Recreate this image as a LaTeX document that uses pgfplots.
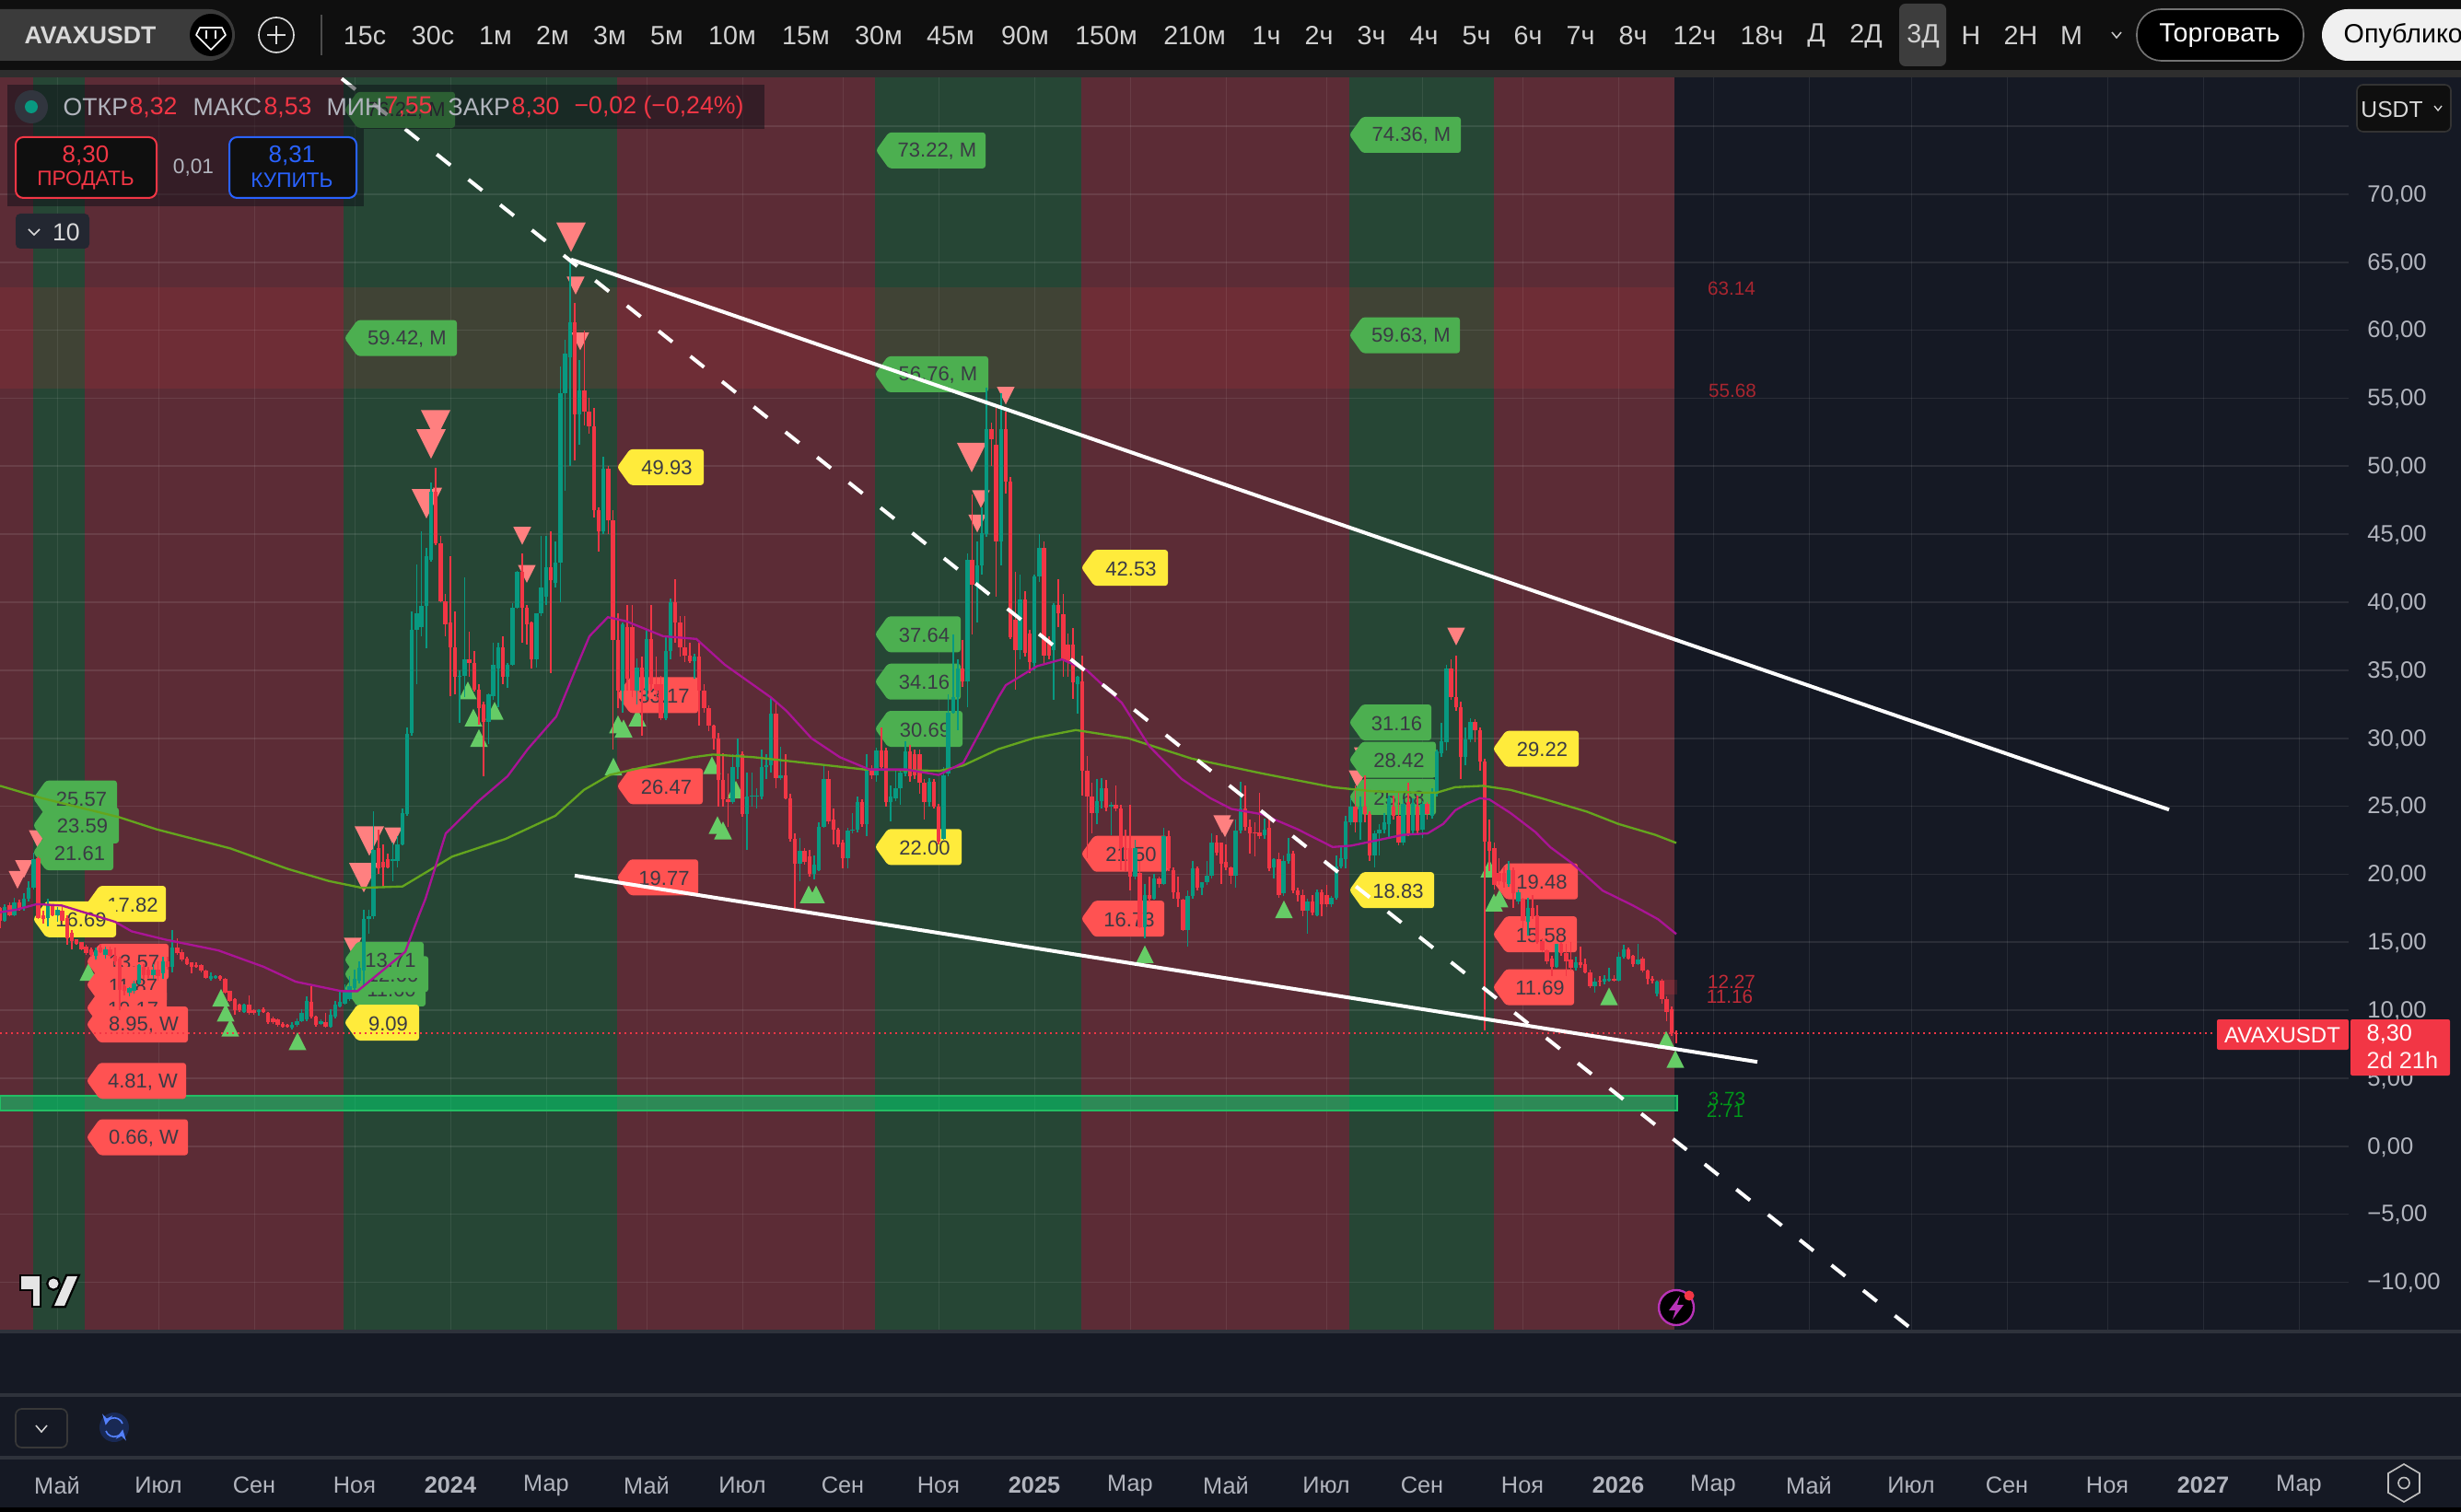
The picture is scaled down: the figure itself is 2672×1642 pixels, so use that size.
\documentclass[border=0pt]{standalone}
\usepackage{fontspec}
\setmainfont{Liberation Sans}
\usepackage{pgfplots}
\usepackage{pgfplotstable}
\pgfplotsset{compat=1.18}
\usetikzlibrary{plotmarks}
\definecolor{bg}{RGB}{21,25,36}
\definecolor{bandR}{RGB}{92,44,54}
\definecolor{bandG}{RGB}{38,70,53}
\definecolor{cup}{RGB}{8,153,129}
\definecolor{cdn}{RGB}{242,54,69}
\definecolor{tagG}{RGB}{76,175,80}
\definecolor{tagR}{RGB}{255,82,82}
\definecolor{tagY}{RGB}{255,235,59}
\definecolor{tagT}{RGB}{58,58,68}
\definecolor{triP}{RGB}{255,128,128}
\definecolor{triG}{RGB}{102,204,102}
\definecolor{maP}{RGB}{170,20,150}
\definecolor{maG}{RGB}{100,165,30}
\definecolor{lbl}{RGB}{178,181,190}
\definecolor{sep}{RGB}{46,50,59}
\definecolor{bar}{RGB}{15,15,15}
\definecolor{buy}{RGB}{41,98,255}
\newcommand{\fs}[1]{\fontsize{#1}{#1}\selectfont}
\pgfdeclareplotmark{dn}{\pgfpathmoveto{\pgfpoint{-\pgfplotmarksize}{0.667\pgfplotmarksize}}\pgfpathlineto{\pgfpoint{\pgfplotmarksize}{0.667\pgfplotmarksize}}\pgfpathlineto{\pgfpoint{0pt}{-1.333\pgfplotmarksize}}\pgfpathclose\pgfusepathqfill}
\pgfdeclareplotmark{up}{\pgfpathmoveto{\pgfpoint{-\pgfplotmarksize}{-0.667\pgfplotmarksize}}\pgfpathlineto{\pgfpoint{\pgfplotmarksize}{-0.667\pgfplotmarksize}}\pgfpathlineto{\pgfpoint{0pt}{1.333\pgfplotmarksize}}\pgfpathclose\pgfusepathqfill}
\newcommand{\band}[3]{\addplot[fill=#3,draw=none,forget plot] coordinates {(#1,-13.622)(#2,-13.622)(#2,78.593)(#1,78.593)} --cycle;}
\newcommand{\tg}[5]{%
 \fill[#4,rounded corners=.9pt] (axis cs:#1,#2) -- ++(4.2pt,5.85pt) -- ++({(#3-#1-14)*0.3pt},0pt) -- ++(0pt,-11.7pt) -- ++({-(#3-#1-14)*0.3pt},0pt) -- cycle;
 \path (axis cs:#1,#2) ++({(#3-#1+14)*0.15pt},-0.3pt) node[text=tagT,font=\fs{6.6}] {#5};}
\pgfplotstableread{
i o h l c
0 17.5 17.6 16.0 16.6
1 16.6 17.8 16.5 17.6
2 17.7 17.9 16.9 17.0
3 17.0 18.3 16.9 17.9
4 17.9 18.1 17.3 17.5
5 17.5 18.6 17.3 18.2
6 18.2 19.5 18.0 19.0
7 19.0 21.6 18.9 21.1
8 21.2 21.3 16.7 16.8
9 17.0 17.3 16.4 16.7
10 16.8 18.2 16.2 17.7
11 17.7 17.8 16.9 17.0
12 17.0 17.6 16.5 17.4
13 17.3 17.6 16.4 16.6
14 16.8 17.0 14.8 15.3
15 15.7 15.9 14.5 15.1
16 15.2 15.2 14.8 14.9
17 15.0 15.0 14.4 14.5
18 14.7 14.8 14.1 14.2
19 14.5 14.6 13.9 14.1
20 14.0 14.6 13.7 14.4
21 14.6 14.9 14.2 14.3
22 14.1 14.7 13.8 14.5
23 14.5 14.7 13.9 14.0
24 14.0 14.6 13.3 13.6
25 13.8 13.9 10.0 11.5
26 11.8 11.9 11.1 11.4
27 11.3 11.7 11.0 11.6
28 11.4 12.2 11.2 12.0
29 12.0 13.4 11.9 13.3
30 13.2 13.4 12.3 12.6
31 13.0 13.2 12.4 12.6
32 12.6 13.4 12.3 13.0
33 13.0 13.6 12.2 12.5
34 12.7 13.9 12.3 13.6
35 13.6 13.9 13.0 13.2
36 13.2 15.9 12.8 14.6
37 14.6 15.3 14.1 14.2
38 14.3 14.5 13.6 13.7
39 13.8 13.9 13.3 13.4
40 13.5 13.5 12.7 13.2
41 13.3 13.5 13.1 13.2
42 13.3 13.4 12.8 12.9
43 12.9 13.0 12.3 12.4
44 12.3 12.8 12.2 12.5
45 12.4 12.6 12.3 12.5
46 12.5 12.6 12.2 12.3
47 12.3 12.4 11.2 11.3
48 11.4 11.4 10.6 10.7
49 10.8 10.9 9.7 10.0
50 10.4 10.5 9.9 10.0
51 9.9 10.5 9.8 10.4
52 10.4 11.1 9.7 9.8
53 10.0 10.1 9.7 9.8
54 9.9 10.1 9.6 10.0
55 10.1 10.2 9.8 9.9
56 9.8 9.9 9.0 9.1
57 9.4 9.5 9.0 9.1
58 9.3 9.4 8.8 8.9
59 9.0 9.1 8.7 8.8
60 8.9 9.0 8.7 8.8
61 8.7 9.1 8.6 8.9
62 8.9 9.4 8.8 9.2
63 9.2 10.1 9.1 9.8
64 9.3 11.0 9.2 10.7
65 10.6 11.8 9.4 9.5
66 9.5 9.6 8.8 8.9
67 9.0 9.3 8.9 9.2
68 9.1 9.8 8.7 8.8
69 8.8 10.1 8.7 9.7
70 9.5 10.7 9.4 10.4
71 10.3 11.4 10.2 10.6
72 10.5 11.9 10.4 11.4
73 10.8 12.5 10.7 11.8
74 11.6 13.0 11.5 12.3
75 12.2 13.6 12.0 13.1
76 12.9 17.4 11.8 16.7
77 16.7 17.4 15.6 16.9
78 16.9 24.6 16.7 21.8
79 21.9 23.3 20.0 20.4
80 20.9 22.2 19.0 20.5
81 21.1 21.5 20.4 20.5
82 21.0 22.3 19.5 21.1
83 21.0 22.8 20.5 22.2
84 22.2 24.8 22.1 24.5
85 24.4 30.8 24.3 30.3
86 30.4 39.3 30.2 38.0
87 38.0 42.8 34.0 39.2
88 38.2 45.2 37.5 39.7
89 39.7 44.0 36.6 43.4
90 43.1 48.8 43.0 48.1
91 48.1 49.9 44.2 44.3
92 44.3 44.9 40.0 40.1
93 40.1 40.6 37.5 38.4
94 38.5 43.4 33.1 36.7
95 36.7 39.3 33.2 34.5
96 34.5 35.0 31.1 34.6
97 34.6 41.8 33.0 35.8
98 35.8 37.8 34.5 35.5
99 35.5 36.4 33.4 33.6
100 33.6 34.0 31.0 32.2
101 32.5 32.7 27.2 31.2
102 31.2 33.3 29.6 33.2
103 33.1 37.0 32.8 35.4
104 35.1 37.0 32.3 36.7
105 36.7 37.5 34.0 34.5
106 34.5 35.5 33.7 35.4
107 35.4 39.9 35.3 39.6
108 39.6 42.3 39.5 42.2
109 42.2 43.6 37.0 39.6
110 39.6 39.8 36.9 38.4
111 38.5 38.6 35.1 35.8
112 35.8 39.2 35.2 39.2
113 39.2 44.9 39.0 41.1
114 40.4 44.9 39.8 42.6
115 42.6 45.2 34.8 41.6
116 41.4 44.5 41.1 42.9
117 42.9 57.3 40.0 55.4
118 55.4 59.3 48.2 58.3
119 58.0 65.0 50.0 60.6
120 60.6 62.0 50.4 53.8
121 53.8 57.8 51.6 55.6
122 55.6 60.0 53.0 54.0
123 54.0 55.0 52.4 52.9
124 52.9 54.3 46.2 46.8
125 46.8 47.0 43.7 45.2
126 45.2 50.7 45.0 49.8
127 49.8 50.0 45.0 46.0
128 46.0 46.8 29.2 37.2
129 37.2 39.2 32.2 33.5
130 33.5 38.5 31.9 38.4
131 38.2 39.8 33.5 34.4
132 38.2 39.8 33.0 33.5
133 33.5 35.9 32.5 35.2
134 35.2 36.0 30.2 33.5
135 33.5 38.0 32.8 37.3
136 37.3 39.8 33.5 34.0
137 34.0 36.0 32.8 33.5
138 34.0 34.6 31.3 31.5
139 31.5 37.5 31.3 36.4
140 36.4 40.3 35.8 40.0
141 40.0 41.7 37.0 38.5
142 38.5 39.0 36.0 36.7
143 36.7 39.0 35.6 36.1
144 36.1 37.0 35.5 35.7
145 35.7 36.2 34.4 36.0
146 36.0 37.0 30.9 33.5
147 33.5 34.0 31.9 32.2
148 32.2 32.4 30.5 30.9
149 30.9 31.0 29.2 30.0
150 30.0 30.4 25.0 26.9
151 26.9 28.9 25.0 25.5
152 25.5 27.4 23.5 25.3
153 25.3 28.8 25.2 27.9
154 27.9 30.0 27.0 28.8
155 28.8 29.0 24.2 24.4
156 24.4 27.5 21.8 25.7
157 25.7 27.5 25.0 25.8
158 25.7 26.3 24.8 25.8
159 25.7 29.2 25.5 27.9
160 27.9 28.8 27.0 28.0
161 28.0 33.0 27.5 31.8
162 31.8 32.6 26.3 27.1
163 27.1 29.4 26.9 27.3
164 27.3 28.8 25.5 25.6
165 25.6 25.9 22.4 22.6
166 22.6 23.0 17.3 20.8
167 20.8 22.7 19.5 21.7
168 21.7 21.9 20.7 20.9
169 21.3 21.8 19.8 20.0
170 20.0 21.4 19.6 20.7
171 20.3 23.8 20.2 23.5
172 23.5 28.0 23.4 27.0
173 27.0 27.6 23.7 23.9
174 24.0 24.8 22.2 23.3
175 23.3 23.4 22.0 22.2
176 22.3 22.5 20.4 21.2
177 21.2 23.4 20.4 23.2
178 23.2 24.5 23.0 23.3
179 23.3 25.7 23.1 25.3
180 25.3 25.5 23.5 23.7
181 23.7 28.8 22.8 27.6
182 27.6 28.0 27.0 27.3
183 27.3 29.3 26.8 29.1
184 29.1 30.8 27.7 27.9
185 29.1 29.3 25.0 25.3
186 25.3 26.5 23.9 25.7
187 25.6 27.6 25.4 26.3
188 26.3 27.7 25.1 27.5
189 27.4 29.8 27.2 29.0
190 29.0 29.5 26.8 27.2
191 28.8 29.2 27.0 27.3
192 28.8 29.2 25.9 26.7
193 26.7 27.0 24.0 25.3
194 25.3 27.1 25.0 26.8
195 26.8 27.0 24.8 25.0
196 25.0 25.2 22.2 22.4
197 22.6 27.9 22.5 27.3
198 27.4 33.2 27.2 31.9
199 31.9 37.6 31.8 33.0
200 33.0 35.8 30.6 35.1
201 35.1 37.2 33.8 34.2
202 34.2 43.6 32.3 43.1
203 43.1 47.9 37.6 41.3
204 41.2 44.5 38.5 42.7
205 42.7 47.0 42.0 45.1
206 45.0 55.8 44.8 52.7
207 52.7 53.2 50.0 52.0
208 51.6 54.3 40.4 44.5
209 44.5 55.4 42.7 52.7
210 52.7 54.0 48.0 48.9
211 48.9 49.2 37.3 37.4
212 38.7 42.2 33.6 36.5
213 36.5 42.0 35.8 40.2
214 40.2 40.8 36.0 36.3
215 37.7 38.0 34.8 35.6
216 35.5 42.0 35.0 41.9
217 41.9 45.0 41.5 44.0
218 44.0 44.5 35.5 36.1
219 37.2 37.5 35.8 36.1
220 36.5 39.9 32.8 39.8
221 39.8 41.7 38.2 39.2
222 39.1 40.6 34.5 35.8
223 36.9 37.7 34.5 35.7
224 36.9 38.1 32.9 34.1
225 34.0 34.6 31.8 34.5
226 34.2 36.1 25.8 27.6
227 27.6 28.7 21.2 25.7
228 25.7 26.7 23.0 24.5
229 24.5 27.0 23.7 25.4
230 25.4 27.1 24.8 26.3
231 26.3 26.9 24.6 24.9
232 25.0 25.3 22.9 25.1
233 25.1 26.5 24.6 24.8
234 24.8 25.1 20.3 21.9
235 21.9 23.3 20.2 21.8
236 21.9 25.1 18.8 19.8
237 19.8 22.5 19.6 21.9
238 20.1 21.0 16.0 16.1
239 16.1 19.3 15.3 18.5
240 18.5 19.8 18.0 18.2
241 18.2 20.0 18.1 19.7
242 19.7 19.8 19.0 19.3
243 19.3 23.4 19.2 22.8
244 22.8 23.2 20.2 20.4
245 20.3 20.5 18.2 18.7
246 18.7 19.8 17.6 18.2
247 18.1 18.2 15.8 15.9
248 15.9 18.8 14.7 18.4
249 18.4 21.0 18.2 20.4
250 20.4 20.6 18.8 19.0
251 19.0 19.4 18.5 19.4
252 19.4 21.0 19.2 19.9
253 19.9 23.0 19.7 22.3
254 22.3 22.9 21.4 21.6
255 22.3 22.3 19.3 20.8
256 20.9 22.2 20.3 20.5
257 20.5 20.6 19.3 19.9
258 19.9 24.0 19.0 23.2
259 23.2 26.8 23.0 24.8
260 24.8 26.5 23.2 23.5
261 23.5 24.0 21.5 23.0
262 23.1 23.8 21.3 23.0
263 23.1 26.0 22.6 22.8
264 22.9 24.1 22.6 23.3
265 23.4 24.2 20.2 20.4
266 20.5 21.2 19.7 21.1
267 21.1 21.6 18.3 18.5
268 18.6 21.4 18.4 21.0
269 21.0 22.7 20.8 21.5
270 21.5 21.7 18.6 18.8
271 18.8 19.0 18.0 18.5
272 18.5 18.9 16.9 17.3
273 17.3 18.2 15.6 18.0
274 18.0 18.5 17.0 17.2
275 17.0 18.9 16.9 18.7
276 18.7 18.9 16.9 17.8
277 18.5 19.2 17.6 17.8
278 17.8 18.4 17.6 18.3
279 18.3 21.4 18.1 20.6
280 20.6 22.1 20.4 21.2
281 21.1 24.3 20.4 23.9
282 23.8 25.6 23.6 25.0
283 25.0 26.5 23.1 23.8
284 23.8 25.7 22.5 25.0
285 25.0 27.3 23.8 24.4
286 24.4 24.6 21.0 21.4
287 21.4 23.2 20.5 23.0
288 23.0 23.7 21.4 23.3
289 23.3 24.5 23.0 23.8
290 23.7 25.8 22.7 25.6
291 25.0 25.8 24.0 24.3
292 24.3 26.0 22.1 22.3
293 22.3 25.5 22.1 25.2
294 25.3 26.7 22.8 23.0
295 23.2 25.6 23.0 25.2
296 25.0 25.8 23.0 23.2
297 23.3 25.4 22.7 25.2
298 25.2 25.3 24.0 24.4
299 24.3 26.3 24.1 26.0
300 25.9 29.2 25.7 29.0
301 28.9 31.1 28.6 29.8
302 29.7 35.4 29.1 35.1
303 35.1 35.8 32.8 33.0
304 33.0 36.1 32.0 32.3
305 32.3 32.7 27.0 28.6
306 28.6 30.8 28.0 29.9
307 29.9 31.5 29.7 31.2
308 31.2 31.4 29.7 30.6
309 30.6 30.8 27.6 28.3
310 28.3 28.5 8.5 22.4
311 22.4 24.0 20.2 21.7
312 21.9 22.3 18.9 19.2
313 20.1 21.2 19.2 19.5
314 20.1 20.6 19.0 19.4
315 19.3 21.0 19.1 20.3
316 20.3 20.5 17.5 18.6
317 18.0 18.9 17.8 18.7
318 18.2 18.3 16.0 16.6
319 16.5 18.3 15.5 17.5
320 17.5 18.5 16.7 16.9
321 17.0 17.7 14.9 15.0
322 15.1 15.3 14.3 14.4
323 14.4 14.5 13.4 13.6
324 13.8 14.0 12.5 13.2
325 13.2 14.9 13.1 14.9
326 14.9 15.0 14.0 14.2
327 14.2 14.9 12.5 13.6
328 13.7 15.0 12.9 13.1
329 13.1 13.9 12.9 13.5
330 13.5 14.7 13.1 13.3
331 13.4 13.8 12.7 12.8
332 12.8 13.0 11.6 11.8
333 11.8 12.4 11.3 12.1
334 12.2 12.5 11.8 12.1
335 12.1 12.6 11.9 12.3
336 12.2 13.1 12.1 12.3
337 12.3 12.6 12.1 12.2
338 12.2 14.3 12.1 13.9
339 13.9 14.8 13.8 14.5
340 14.5 14.6 13.7 13.8
341 14.0 14.1 13.2 13.4
342 13.4 14.9 13.3 13.7
343 13.8 13.9 12.8 12.9
344 12.9 13.0 11.9 12.3
345 12.3 12.5 12.0 12.2
346 11.2 12.2 11.0 12.1
347 12.2 12.3 10.5 10.8
348 10.8 11.0 9.2 9.9
349 10.1 10.3 8.1 8.3
350 8.32 8.53 7.55 8.30
}\candles
\begin{document}
\begin{tikzpicture}[x=0.3pt,y=-0.3pt]
\useasboundingbox (0,0) rectangle (2672,1642);
\fill[bg] (0,0) rectangle (2672,1642);
% --- bands
\begin{axis}[at={(0pt,-433.8pt)},anchor=south west,scale only axis,width=765pt,height=408.6pt,xmin=0,xmax=2550,ymin=-13.622,ymax=78.593,hide axis]
\band{0}{36}{bandR}
\band{36}{92}{bandG}
\band{92}{373}{bandR}
\band{373}{670}{bandG}
\band{670}{950}{bandR}
\band{950}{1174}{bandG}
\band{1174}{1465}{bandR}
\band{1465}{1622}{bandG}
\band{1622}{1818}{bandR}
\addplot[fill={rgb,255:red,213;green,55;blue,55},fill opacity=.15,draw=none,forget plot] coordinates {(0,55.68)(1818,55.68)(1818,63.14)(0,63.14)} --cycle;
\end{axis}
% --- main
\begin{axis}[at={(0pt,-433.8pt)},anchor=south west,scale only axis,width=765pt,height=408.6pt,xmin=0,xmax=2550,ymin=-13.622,ymax=78.593,
 axis line style={draw=none},major tick length=0pt,
 xmajorgrids,ymajorgrids,
 x grid style={white,opacity=.08,line width=.3pt},
 y grid style={white,opacity=.09,line width=.5pt},
 xtick={62,172,276,385,489,593,702,806,915,1019,1123,1227,1331,1440,1544,1653,1757,1860,1964,2075,2179,2288,2392,2496},
 xticklabels={Май,Июл,Сен,Ноя,\textbf{2024},Мар,Май,Июл,Сен,Ноя,\textbf{2025},Мар,Май,Июл,Сен,Ноя,\textbf{2026},Мар,Май,Июл,Сен,Ноя,\textbf{2027},Мар},
 xticklabel style={anchor=center,yshift=-50.1pt,font=\fs{7.6},text=lbl},
 ytick={-10,-5,0,5,10,15,20,25,30,35,40,45,50,55,60,65,70,75},
 yticklabels={{−10,00},{−5,00},{0,00},{5,00},{10,00},{15,00},{20,00},{25,00},{30,00},{35,00},{40,00},{45,00},{50,00},{55,00},{60,00},{65,00},{70,00},{}},
 yticklabel pos=right,
 yticklabel style={anchor=west,xshift=2.6pt,yshift=-.3pt,font=\fs{7.7},text=lbl},
 clip mode=individual]
% green zone
\addplot[fill={rgb,255:red,0;green,230;blue,118},fill opacity=.5,draw={rgb,255:red,34;green,190;blue,100},line width=.6pt,forget plot] coordinates {(0,2.65)(1821,2.65)(1821,3.7)(0,3.7)} --cycle;
\addplot[fill=cdn,fill opacity=.18,draw=none,forget plot] coordinates {(1798,11.16)(1821,11.16)(1821,12.27)(1798,12.27)} --cycle;
% triangles
\addplot[only marks,mark=dn,mark size=4.8pt,color=triP,forget plot] coordinates {(620,67.2)(473,53.4)(468,52)(463,47.6)(401,22.8)(395,20.1)(1055,51)};
\addplot[only marks,mark=dn,mark size=2.9pt,color=triP,forget plot] coordinates {(625,63.5)(630,59.4)(567,45.1)(572,42.3)(427,23)(383,14.9)(41,22.8)(26,20.6)(19,19.8)(1092,55.4)(1065,47.8)(1061,46)(1327,23.9)(1330,23.6)(1581,37.7)(1474,27.2)};
\addplot[only marks,mark=dn,mark size=1.5pt,color=triP,forget plot] coordinates {(475,48.2)(1475,29.1)};
\addplot[only marks,mark=up,mark size=2.9pt,color=triG,forget plot] coordinates {(96,12.6)(240,10.7)(245,9.6)(250,8.5)(323,7.5)(520,29.8)(508,33.3)(514,31.3)(537,31.8)(671,30.8)(677,30.5)(692,31.3)(666,27.7)(773,27.8)(799,26)(779,23.4)(785,23)(878,18.3)(886,18.3)(1243,13.9)(1394,17.2)(1617,20.2)(1628,18)(1622,17.7)(1747,10.8)(1809,7.6)(1819,6.2)};
% tags
\tg{374}{76.2}{494}{tagG}{76.22, M}
\tg{951}{73.22}{1070}{tagG}{73.22, M}
\tg{1465}{74.36}{1586}{tagG}{74.36, M}
\tg{374}{59.42}{496}{tagG}{59.42, M}
\tg{1465}{59.63}{1585}{tagG}{59.63, M}
\tg{950}{56.76}{1073}{tagG}{56.76, M}
\tg{36}{25.57}{127}{tagG}{25.57}
\tg{36}{23.59}{129}{tagG}{23.59}
\tg{36}{21.61}{123}{tagG}{21.61}
\tg{94}{17.82}{180}{tagY}{17.82}
\tg{36}{16.69}{126}{tagY}{16.69}
\tg{94}{13.57}{183}{tagR}{13.57}
\tg{94}{11.87}{181}{tagR}{11.87}
\tg{94}{10.17}{181}{tagR}{10.17}
\tg{94}{8.95}{204}{tagR}{8.95, W}
\tg{94}{4.81}{202}{tagR}{4.81, W}
\tg{94}{0.66}{204}{tagR}{0.66, W}
\tg{374}{11.60}{462}{tagG}{11.60}
\tg{374}{12.66}{465}{tagG}{12.66}
\tg{374}{13.71}{460}{tagG}{13.71}
\tg{374}{9.09}{455}{tagY}{9.09}
\tg{670}{49.93}{764}{tagY}{49.93}
\tg{670}{33.17}{758}{tagR}{33.17}
\tg{670}{26.47}{763}{tagR}{26.47}
\tg{670}{19.77}{758}{tagR}{19.77}
\tg{950}{37.64}{1043}{tagG}{37.64}
\tg{950}{34.16}{1043}{tagG}{34.16}
\tg{950}{30.69}{1045}{tagG}{30.69}
\tg{950}{22.00}{1044}{tagY}{22.00}
\tg{1174}{42.53}{1268}{tagY}{42.53}
\tg{1174}{21.50}{1268}{tagR}{21.50}
\tg{1174}{16.73}{1264}{tagR}{16.73}
\tg{1465}{25.68}{1559}{tagG}{25.68}
\tg{1465}{28.42}{1559}{tagG}{28.42}
\tg{1465}{31.16}{1554}{tagG}{31.16}
\tg{1465}{18.83}{1557}{tagY}{18.83}
\tg{1621}{29.22}{1714}{tagY}{29.22}
\tg{1621}{19.48}{1713}{tagR}{19.48}
\tg{1621}{15.58}{1712}{tagR}{15.58}
\tg{1621}{11.69}{1709}{tagR}{11.69}
% candles: wicks then bodies, one plot for each colour
\addplot[draw=none,mark=none,forget plot,error bars/.cd,y dir=both,y explicit,error mark=none,error bar style={line width=.45pt,draw=cup}] table[x expr={\thisrow{c}>=\thisrow{o}?5.2*\thisrow{i}:nan},y=c,y error plus expr={\thisrow{h}-\thisrow{c}},y error minus expr={\thisrow{c}-\thisrow{l}}] {\candles};
\addplot[draw=none,mark=none,forget plot,error bars/.cd,y dir=both,y explicit,error mark=none,error bar style={line width=1.35pt,draw=cup}] table[x expr={\thisrow{c}>=\thisrow{o}?5.2*\thisrow{i}:nan},y=c,y error plus expr={0},y error minus expr={\thisrow{c}-\thisrow{o}}] {\candles};
\addplot[draw=none,mark=none,forget plot,error bars/.cd,y dir=both,y explicit,error mark=none,error bar style={line width=.45pt,draw=cdn}] table[x expr={\thisrow{c}<\thisrow{o}?5.2*\thisrow{i}:nan},y=c,y error plus expr={\thisrow{h}-\thisrow{c}},y error minus expr={\thisrow{c}-\thisrow{l}}] {\candles};
\addplot[draw=none,mark=none,forget plot,error bars/.cd,y dir=both,y explicit,error mark=none,error bar style={line width=1.35pt,draw=cdn}] table[x expr={\thisrow{c}<\thisrow{o}?5.2*\thisrow{i}:nan},y=c,y error plus expr={\thisrow{o}-\thisrow{c}},y error minus expr={0}] {\candles};
% moving averages
\addplot[maG,line width=.7pt,forget plot] coordinates {(0,26.5)(45,25.6)(129,24.2)(170,23.3)(250,21.9)(312,20.4)(357,19.5)(393,19.0)(437,19.1)(469,20.4)(491,21.3)(549,22.6)(603,24.3)(634,26.2)(662,27.3)(694,27.8)(716,28.1)(752,28.6)(774,28.8)(819,28.6)(886,28.1)(939,27.7)(1020,27.6)(1046,28)(1084,29.2)(1122,30)(1168,30.6)(1225,30)(1294,28.5)(1371,27.4)(1447,26.4)(1490,26.1)(1543,26)(1560,26)(1580,26.4)(1610,26.5)(1640,26.2)(1673,25.6)(1723,24.6)(1757,23.7)(1797,22.9)(1820,22.3)};
\addplot[maP,line width=.7pt,forget plot] coordinates {(0,17.2)(18,17.4)(40,17.8)(67,17.7)(125,16.5)(143,15.8)(179,15.2)(237,14.4)(286,13.2)(321,12.1)(371,11.4)(388,11.4)(415,12.9)(440,14.3)(455,17)(462,18.2)(484,23)(520,25.4)(551,27.2)(573,29.2)(604,31.6)(627,35.4)(640,37.5)(660,38.9)(680,38.6)(720,37.5)(756,37.3)(787,35.4)(837,33)(854,32)(881,30)(912,28.6)(944,27.7)(984,27.7)(1019,27.3)(1046,28.2)(1065,30.6)(1084,33)(1092,33.9)(1126,35.3)(1153,35.8)(1180,35)(1218,32.6)(1248,29.4)(1283,27)(1314,25.6)(1337,24.8)(1371,24.4)(1409,23.3)(1447,22)(1467,22.1)(1524,22.9)(1550,23)(1567,23.7)(1580,24.7)(1593,25.2)(1607,25.6)(1617,25.5)(1640,24.5)(1667,23.1)(1683,22)(1707,20.8)(1740,18.8)(1773,17.7)(1800,16.7)(1820,15.6)};
% current price
\addplot[cdn,line width=.5pt,dash pattern=on .7pt off 1.1pt,forget plot] coordinates {(0,8.3)(2403,8.3)};
% trend lines
\addplot[white,line width=1.2pt,forget plot] coordinates {(620,65.2)(2355,24.75)};
\addplot[white,line width=1.2pt,forget plot] coordinates {(624,19.9)(1908,6.2)};
\addplot[white,line width=1.2pt,dash pattern=on 5.7pt off 7.5pt,forget plot] coordinates {(371,78.5)(2073,-13.3)};
\end{axis}
% --- separators
\fill[sep] (0,1444) rectangle (2672,1448);
\fill[sep] (0,1513) rectangle (2672,1517);
\fill[sep] (0,1581) rectangle (2672,1585);
\fill[black] (0,1637) rectangle (2672,1642);
% --- toolbar
\fill[bar] (0,0) rectangle (2672,76);
\fill[white!18!black] (0,76) rectangle (2672,84);
\fill[white!23!black,rounded corners=8.4pt] (-40,10) rectangle (255,66);
\node[text=white!85!black,font=\fs{8}\bfseries] at (98,38) {AVAXUSDT};
\fill[black] (229,38) circle (23);
\draw[white,line width=.5pt,line join=round] (217,30)--(241,30)--(245,38)--(229,54)--(213,38)--cycle;
\draw[white,line width=.8pt] (224,33)--(224,42) (234,33)--(234,42);
\draw[white!85!black,line width=.5pt] (300,38) circle (19);
\draw[white!85!black,line width=.5pt] (290,38)--(310,38) (300,28)--(300,48);
\draw[white!30!black,line width=.5pt] (349,16)--(349,60);
\fill[white!24!black,rounded corners=2pt] (2062,4) rectangle (2113,72);
\foreach \x/\t in {396/15с,470/30с,538/1м,600/2м,662/3м,724/5м,795/10м,875/15м,954/30м,1032/45м,1113/90м,1201/150м,1297/210м,1375/1ч,1432/2ч,1489/3ч,1546/4ч,1603/5ч,1659/6ч,1716/7ч,1773/8ч,1840/12ч,1913/18ч,1972/Д,2026/2Д,2088/3Д,2140/Н,2194/2Н,2249/М}
 \node[text=white!82!black,font=\fs{8.6}] at (\x,39) {\t};
\draw[white!80!black,line width=.45pt] (2293,35)--(2298,41)--(2303,35);
\draw[white!45!black,fill=black,line width=.5pt,rounded corners=8pt] (2320,10) rectangle (2501,66);
\node[text=white,font=\fs{8.6}] at (2410,39) {Торговать};
\fill[white!94!black,rounded corners=8.4pt] (2521,10) rectangle (2750,66);
\node[anchor=west,inner sep=0pt,text=black,font=\fs{8.6}] at (2544,39) {Опубликовать};
% --- legend panel
\fill[black!35!bg,fill opacity=.5] (8,92) rectangle (830,140);
\fill[black!35!bg,fill opacity=.5] (8,140) rectangle (395,224);
\fill[white!12!bg] (34,116) circle (18);
\fill[cup] (34,116) circle (7);
\foreach \x/\t/\c in {68/ОТКР/lbl,140/{8,32}/cdn,209/МАКС/lbl,286/{8,53}/cdn,354/МИН/lbl,417/{7,55}/cdn,486/ЗАКР/lbl,555/{8,30}/cdn,623/{−0,02 (−0,24\%)}/cdn}
 \node[anchor=west,inner sep=0pt,text=\c,font=\fs{8}] at (\x,116.5) {\t};
\draw[cdn,fill=bar,line width=.6pt,rounded corners=2.5pt] (17,149) rectangle (170,215);
\node[text=cdn,font=\fs{7.8}] at (93,169) {8,30};
\node[text=cdn,font=\fs{6.8}] at (93,196) {ПРОДАТЬ};
\node[text=lbl,font=\fs{6.8}] at (210,182) {0,01};
\draw[buy,fill=bar,line width=.6pt,rounded corners=2.5pt] (249,149) rectangle (387,215);
\node[text=buy,font=\fs{7.8}] at (317,169) {8,31};
\node[text=buy,font=\fs{6.8}] at (317,196) {КУПИТЬ};
\fill[white!6!bg,rounded corners=1.5pt] (17,232) rectangle (97,270);
\draw[white!85!black,line width=.45pt] (31,249)--(37,255)--(43,249);
\node[text=white!85!black,font=\fs{8}] at (72,252) {10};
% --- USDT box
\draw[white!20!black,fill=bar,line width=.5pt,rounded corners=2pt] (2559,92) rectangle (2661,143);
\node[text=white!85!black,font=\fs{7.4}] at (2597,119) {USDT};
\draw[white!85!black,line width=.4pt] (2643,115)--(2647,120)--(2651,115);
% --- side values
\node[text=cdn!70!black,font=\fs{6.2}] at (1880,313) {63.14};
\node[text=cdn!70!black,font=\fs{6.2}] at (1881,424) {55.68};
\node[text=cdn!80!black,font=\fs{6.2}] at (1880,1066) {12.27};
\node[text=cdn!80!black,font=\fs{6.2}] at (1878,1082) {11.16};
\node[text=green!55!black!90!cyan,font=\fs{6.2}] at (1875,1193) {3.73};
\node[text=green!55!black!90!cyan,font=\fs{6.2}] at (1873,1206) {2.71};
% --- price label
\fill[cdn,rounded corners=.6pt] (2407,1107) rectangle (2550,1140);
\node[text=white,font=\fs{7.2}] at (2478,1124) {AVAXUSDT};
\fill[cdn,rounded corners=.6pt] (2552,1107) rectangle (2660,1168);
\node[anchor=west,inner sep=0pt,text=white,font=\fs{7.6}] at (2569,1123) {8,30};
\node[anchor=west,inner sep=0pt,text=white!92!cdn,font=\fs{7.6}] at (2569,1151) {2d 21h};
% --- TradingView logo
\draw[black,fill=black,line width=1.4pt,line join=miter] (23,1386)--(43,1386)--(43,1418)--(36,1418)--(36,1400)--(23,1400)--cycle;
\draw[black,fill=black,line width=1.4pt] (58,1394) circle (5.5);
\draw[black,fill=black,line width=1.4pt,line join=miter] (73,1386)--(84,1386)--(70,1418)--(59,1418)--cycle;
\fill[white!90!black] (23,1386)--(43,1386)--(43,1418)--(36,1418)--(36,1400)--(23,1400)--cycle;
\fill[white!90!black] (58,1394) circle (5.5);
\fill[white!90!black] (73,1386)--(84,1386)--(70,1418)--(59,1418)--cycle;
% --- bolt icon
\draw[violet!70!magenta!80!white,fill=black,line width=.7pt] (1820,1420) circle (19);
\fill[violet!70!magenta!80!white] (1824,1407)--(1812,1423)--(1819,1423)--(1816,1433)--(1828,1417)--(1821,1417)--cycle;
\fill[cdn] (1834,1407) circle (5.5);
% --- bottom controls
\draw[white!22!black,fill=bg,line width=.5pt,rounded corners=2pt] (17,1530) rectangle (73,1572);
\draw[white!85!black,line width=.45pt] (39,1548)--(45,1555)--(51,1548);
\fill[buy!22!bg] (124,1550) circle (16);
\draw[buy!80!white,line width=.5pt,->,>=stealth] (133,1546) arc (-20:-170:9.5);
\draw[buy!80!white,line width=.5pt,->,>=stealth] (115,1554) arc (160:10:9.5);
\draw[white!75!black,line width=.5pt] (2610,1590)--(2627,1600)--(2627,1621)--(2610,1631)--(2593,1621)--(2593,1600)--cycle;
\draw[white!75!black,line width=.5pt] (2610,1610.5) circle (6);
\end{tikzpicture}
\end{document}
